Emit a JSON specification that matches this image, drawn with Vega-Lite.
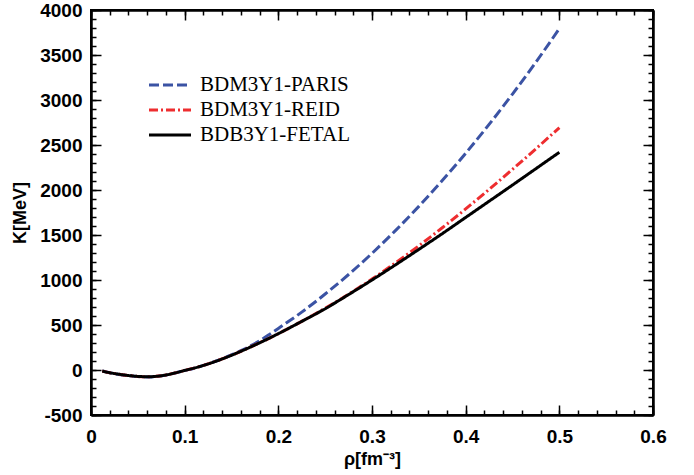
{
  "$schema": "https://vega.github.io/schema/vega-lite/v6.json",
  "width": 562,
  "height": 405,
  "autosize": {"type": "none"},
  "padding": {"left": 91, "top": 10, "right": 41, "bottom": 60},
  "background": "white",
  "config": {
    "view": {"stroke": "black", "strokeWidth": 2},
    "axis": {"grid": false, "labelColor": "black", "titleColor": "black", "tickColor": "black", "gridColor": "black", "gridOpacity": 1, "gridWidth": 1.5, "domainColor": "black", "domainWidth": 2}
  },
  "datasets": {
    "curves": [
    {"rho": 0.012, "K": -12, "s": "BDM3Y1-PARIS"},
    {"rho": 0.02, "K": -31, "s": "BDM3Y1-PARIS"},
    {"rho": 0.03, "K": -49, "s": "BDM3Y1-PARIS"},
    {"rho": 0.04, "K": -63, "s": "BDM3Y1-PARIS"},
    {"rho": 0.05, "K": -73, "s": "BDM3Y1-PARIS"},
    {"rho": 0.06, "K": -77, "s": "BDM3Y1-PARIS"},
    {"rho": 0.07, "K": -72, "s": "BDM3Y1-PARIS"},
    {"rho": 0.08, "K": -57, "s": "BDM3Y1-PARIS"},
    {"rho": 0.09, "K": -33, "s": "BDM3Y1-PARIS"},
    {"rho": 0.1, "K": -6, "s": "BDM3Y1-PARIS"},
    {"rho": 0.11, "K": 20, "s": "BDM3Y1-PARIS"},
    {"rho": 0.12, "K": 51, "s": "BDM3Y1-PARIS"},
    {"rho": 0.13, "K": 86, "s": "BDM3Y1-PARIS"},
    {"rho": 0.14, "K": 125, "s": "BDM3Y1-PARIS"},
    {"rho": 0.15, "K": 168, "s": "BDM3Y1-PARIS"},
    {"rho": 0.16, "K": 215, "s": "BDM3Y1-PARIS"},
    {"rho": 0.17, "K": 266, "s": "BDM3Y1-PARIS"},
    {"rho": 0.18, "K": 325, "s": "BDM3Y1-PARIS"},
    {"rho": 0.19, "K": 392, "s": "BDM3Y1-PARIS"},
    {"rho": 0.2, "K": 462, "s": "BDM3Y1-PARIS"},
    {"rho": 0.225, "K": 643, "s": "BDM3Y1-PARIS"},
    {"rho": 0.25, "K": 844, "s": "BDM3Y1-PARIS"},
    {"rho": 0.275, "K": 1061, "s": "BDM3Y1-PARIS"},
    {"rho": 0.3, "K": 1296, "s": "BDM3Y1-PARIS"},
    {"rho": 0.325, "K": 1549, "s": "BDM3Y1-PARIS"},
    {"rho": 0.35, "K": 1818, "s": "BDM3Y1-PARIS"},
    {"rho": 0.375, "K": 2105, "s": "BDM3Y1-PARIS"},
    {"rho": 0.4, "K": 2408, "s": "BDM3Y1-PARIS"},
    {"rho": 0.425, "K": 2729, "s": "BDM3Y1-PARIS"},
    {"rho": 0.45, "K": 3066, "s": "BDM3Y1-PARIS"},
    {"rho": 0.475, "K": 3421, "s": "BDM3Y1-PARIS"},
    {"rho": 0.5, "K": 3793, "s": "BDM3Y1-PARIS"},

    {"rho": 0.012, "K": -12, "s": "BDM3Y1-REID"},
    {"rho": 0.02, "K": -30, "s": "BDM3Y1-REID"},
    {"rho": 0.03, "K": -47, "s": "BDM3Y1-REID"},
    {"rho": 0.04, "K": -61, "s": "BDM3Y1-REID"},
    {"rho": 0.05, "K": -71, "s": "BDM3Y1-REID"},
    {"rho": 0.06, "K": -75, "s": "BDM3Y1-REID"},
    {"rho": 0.07, "K": -70, "s": "BDM3Y1-REID"},
    {"rho": 0.08, "K": -55, "s": "BDM3Y1-REID"},
    {"rho": 0.09, "K": -32, "s": "BDM3Y1-REID"},
    {"rho": 0.1, "K": -5, "s": "BDM3Y1-REID"},
    {"rho": 0.11, "K": 21, "s": "BDM3Y1-REID"},
    {"rho": 0.12, "K": 51, "s": "BDM3Y1-REID"},
    {"rho": 0.13, "K": 85, "s": "BDM3Y1-REID"},
    {"rho": 0.14, "K": 123, "s": "BDM3Y1-REID"},
    {"rho": 0.15, "K": 164, "s": "BDM3Y1-REID"},
    {"rho": 0.16, "K": 208, "s": "BDM3Y1-REID"},
    {"rho": 0.17, "K": 254, "s": "BDM3Y1-REID"},
    {"rho": 0.18, "K": 302, "s": "BDM3Y1-REID"},
    {"rho": 0.19, "K": 352, "s": "BDM3Y1-REID"},
    {"rho": 0.2, "K": 404, "s": "BDM3Y1-REID"},
    {"rho": 0.225, "K": 541, "s": "BDM3Y1-REID"},
    {"rho": 0.25, "K": 685, "s": "BDM3Y1-REID"},
    {"rho": 0.275, "K": 843, "s": "BDM3Y1-REID"},
    {"rho": 0.3, "K": 1010, "s": "BDM3Y1-REID"},
    {"rho": 0.325, "K": 1190, "s": "BDM3Y1-REID"},
    {"rho": 0.35, "K": 1380, "s": "BDM3Y1-REID"},
    {"rho": 0.375, "K": 1580, "s": "BDM3Y1-REID"},
    {"rho": 0.4, "K": 1790, "s": "BDM3Y1-REID"},
    {"rho": 0.425, "K": 2007, "s": "BDM3Y1-REID"},
    {"rho": 0.45, "K": 2230, "s": "BDM3Y1-REID"},
    {"rho": 0.475, "K": 2458, "s": "BDM3Y1-REID"},
    {"rho": 0.5, "K": 2692, "s": "BDM3Y1-REID"},

    {"rho": 0.012, "K": -12, "s": "BDB3Y1-FETAL"},
    {"rho": 0.02, "K": -30, "s": "BDB3Y1-FETAL"},
    {"rho": 0.03, "K": -47, "s": "BDB3Y1-FETAL"},
    {"rho": 0.04, "K": -61, "s": "BDB3Y1-FETAL"},
    {"rho": 0.05, "K": -71, "s": "BDB3Y1-FETAL"},
    {"rho": 0.06, "K": -75, "s": "BDB3Y1-FETAL"},
    {"rho": 0.07, "K": -70, "s": "BDB3Y1-FETAL"},
    {"rho": 0.08, "K": -55, "s": "BDB3Y1-FETAL"},
    {"rho": 0.09, "K": -32, "s": "BDB3Y1-FETAL"},
    {"rho": 0.1, "K": -5, "s": "BDB3Y1-FETAL"},
    {"rho": 0.11, "K": 21, "s": "BDB3Y1-FETAL"},
    {"rho": 0.12, "K": 51, "s": "BDB3Y1-FETAL"},
    {"rho": 0.13, "K": 85, "s": "BDB3Y1-FETAL"},
    {"rho": 0.14, "K": 123, "s": "BDB3Y1-FETAL"},
    {"rho": 0.15, "K": 164, "s": "BDB3Y1-FETAL"},
    {"rho": 0.16, "K": 208, "s": "BDB3Y1-FETAL"},
    {"rho": 0.17, "K": 254, "s": "BDB3Y1-FETAL"},
    {"rho": 0.18, "K": 302, "s": "BDB3Y1-FETAL"},
    {"rho": 0.19, "K": 352, "s": "BDB3Y1-FETAL"},
    {"rho": 0.2, "K": 404, "s": "BDB3Y1-FETAL"},
    {"rho": 0.225, "K": 540, "s": "BDB3Y1-FETAL"},
    {"rho": 0.25, "K": 681, "s": "BDB3Y1-FETAL"},
    {"rho": 0.275, "K": 838, "s": "BDB3Y1-FETAL"},
    {"rho": 0.3, "K": 1000, "s": "BDB3Y1-FETAL"},
    {"rho": 0.325, "K": 1168, "s": "BDB3Y1-FETAL"},
    {"rho": 0.35, "K": 1340, "s": "BDB3Y1-FETAL"},
    {"rho": 0.375, "K": 1515, "s": "BDB3Y1-FETAL"},
    {"rho": 0.4, "K": 1695, "s": "BDB3Y1-FETAL"},
    {"rho": 0.425, "K": 1875, "s": "BDB3Y1-FETAL"},
    {"rho": 0.45, "K": 2055, "s": "BDB3Y1-FETAL"},
    {"rho": 0.475, "K": 2237, "s": "BDB3Y1-FETAL"},
    {"rho": 0.5, "K": 2419, "s": "BDB3Y1-FETAL"}
    ]
  },
  "data": {"name": "curves"},
  "resolve": {"axis": {"x": "independent", "y": "independent"}},
  "layer": [
    {
      "mark": {"type": "point", "opacity": 0},
      "encoding": {
        "x": {
          "field": "rho", "type": "quantitative",
          "scale": {"domain": [0, 0.6], "nice": false, "zero": false},
          "axis": {
            "orient": "bottom", "title": "minor", "titleColor": "transparent", "labelColor": "transparent",
            "labels": true, "domain": true, "ticks": true, "tickColor": "transparent",
            "grid": true, "gridDash": [5, 2000], "zindex": 1, "tickCount": 30
          }
        },
        "y": {
          "field": "K", "type": "quantitative",
          "scale": {"domain": [-500, 4000], "nice": false, "zero": false},
          "axis": {
            "orient": "left", "title": "minor", "titleColor": "transparent", "labelColor": "transparent",
            "labels": true, "domain": true, "ticks": true, "tickColor": "transparent",
            "grid": true, "gridDash": [5, 2000], "zindex": 1, "tickCount": 45
          }
        }
      }
    },
    {
      "mark": {"type": "point", "opacity": 0},
      "encoding": {
        "x": {
          "field": "rho", "type": "quantitative",
          "scale": {"domain": [0, 0.6], "nice": false, "zero": false},
          "axis": {
            "orient": "bottom", "title": "major", "titleColor": "transparent", "labelColor": "transparent",
            "labels": true, "domain": true, "ticks": true, "tickColor": "transparent",
            "grid": true, "gridDash": [10, 2000], "zindex": 1, "tickCount": 6
          }
        },
        "y": {
          "field": "K", "type": "quantitative",
          "scale": {"domain": [-500, 4000], "nice": false, "zero": false},
          "axis": {
            "orient": "left", "title": "major", "titleColor": "transparent", "labelColor": "transparent",
            "labels": true, "domain": true, "ticks": true, "tickColor": "transparent",
            "grid": true, "gridDash": [10, 2000], "zindex": 1, "tickCount": 9
          }
        }
      }
    },
    {
      "mark": {"type": "point", "opacity": 0},
      "encoding": {
        "x": {
          "field": "rho", "type": "quantitative",
          "scale": {"domain": [0, 0.6], "nice": false, "zero": false},
          "axis": {
            "orient": "top", "title": "minor", "titleColor": "transparent", "labelColor": "transparent",
            "labels": true, "domain": true, "ticks": true, "tickColor": "transparent",
            "grid": true, "gridDash": [5, 2000], "zindex": 1, "tickCount": 30
          }
        },
        "y": {
          "field": "K", "type": "quantitative",
          "scale": {"domain": [-500, 4000], "nice": false, "zero": false},
          "axis": {
            "orient": "right", "title": "minor", "titleColor": "transparent", "labelColor": "transparent",
            "labels": true, "domain": true, "ticks": true, "tickColor": "transparent",
            "grid": true, "gridDash": [5, 2000], "zindex": 1, "tickCount": 45
          }
        }
      }
    },
    {
      "mark": {"type": "point", "opacity": 0},
      "encoding": {
        "x": {
          "field": "rho", "type": "quantitative",
          "scale": {"domain": [0, 0.6], "nice": false, "zero": false},
          "axis": {
            "orient": "top", "title": "major", "titleColor": "transparent", "labelColor": "transparent",
            "labels": true, "domain": true, "ticks": true, "tickColor": "transparent",
            "grid": true, "gridDash": [10, 2000], "zindex": 1, "tickCount": 6
          }
        },
        "y": {
          "field": "K", "type": "quantitative",
          "scale": {"domain": [-500, 4000], "nice": false, "zero": false},
          "axis": {
            "orient": "right", "title": "major", "titleColor": "transparent", "labelColor": "transparent",
            "labels": true, "domain": true, "ticks": true, "tickColor": "transparent",
            "grid": true, "gridDash": [10, 2000], "zindex": 1, "tickCount": 9
          }
        }
      }
    },
    {
      "mark": {"type": "line", "interpolate": "monotone"},
      "encoding": {
        "x": {
          "field": "rho", "type": "quantitative",
          "scale": {"domain": [0, 0.6], "nice": false, "zero": false},
          "axis": {
            "orient": "bottom",
            "values": [0, 0.1, 0.2, 0.3, 0.4, 0.5, 0.6],
            "ticks": false, "domain": false, "grid": false,
            "labelExpr": "datum.value === 0 ? '0' : format(datum.value, '.1f')",
            "labelFont": "Liberation Sans", "labelFontWeight": "bold", "labelFontSize": 19,
            "labelPadding": 12, "labelFlush": false, "labelOverlap": false,
            "title": "ρ[fm⁻³]",
            "titleFont": "Liberation Sans", "titleFontWeight": "bold", "titleFontSize": 18,
            "titlePadding": 4
          }
        },
        "y": {
          "field": "K", "type": "quantitative",
          "scale": {"domain": [-500, 4000], "nice": false, "zero": false},
          "axis": {
            "orient": "left",
            "values": [-500, 0, 500, 1000, 1500, 2000, 2500, 3000, 3500, 4000],
            "ticks": false, "domain": false, "grid": false,
            "labelExpr": "'' + datum.value",
            "labelFont": "Liberation Sans", "labelFontWeight": "bold", "labelFontSize": 19,
            "labelPadding": 9, "labelFlush": false, "labelOverlap": false,
            "title": "K[MeV]",
            "titleFont": "Liberation Sans", "titleFontWeight": "bold", "titleFontSize": 18,
            "titlePadding": 10
          }
        },
        "color": {
          "field": "s", "type": "nominal",
          "scale": {"domain": ["BDM3Y1-PARIS", "BDM3Y1-REID", "BDB3Y1-FETAL"], "range": ["#3B53A4", "#EE2D2F", "#000000"]},
          "legend": {
            "orient": "none", "legendX": 67, "legendY": 63, "title": null,
            "labelFont": "Liberation Serif", "labelFontSize": 21, "labelColor": "black",
            "symbolType": "M-2,0H2", "symbolSize": 441, "symbolStrokeWidth": 3,
            "rowPadding": 3, "labelOffset": 18
          }
        },
        "strokeDash": {
          "field": "s", "type": "nominal",
          "scale": {"domain": ["BDM3Y1-PARIS", "BDM3Y1-REID", "BDB3Y1-FETAL"], "range": [[10, 4], [9, 3, 2, 3], [1, 0]]}
        },
        "strokeWidth": {"value": 3}
      }
    }
  ]
}
